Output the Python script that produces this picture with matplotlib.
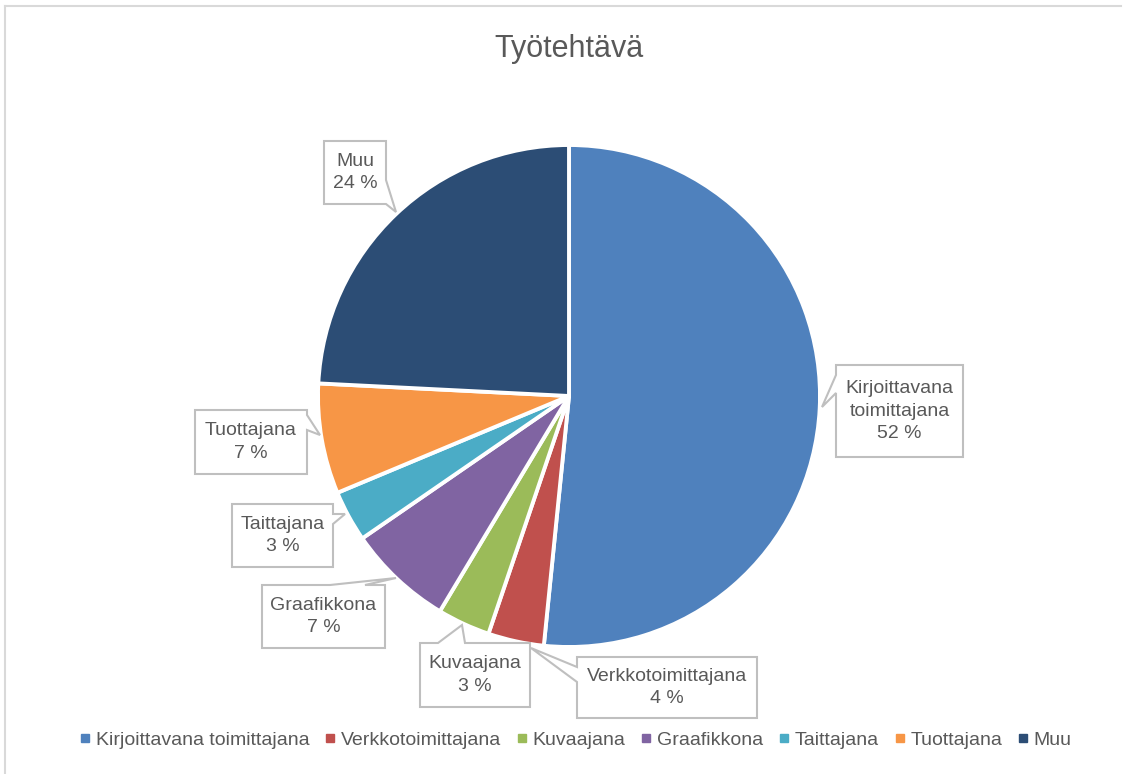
import matplotlib
matplotlib.use("Agg")
import matplotlib.pyplot as plt
from matplotlib.patches import Polygon
from matplotlib.lines import Line2D

plt.rcParams['font.family'] = ['Liberation Sans', 'DejaVu Sans']

# ---- data ----
categories = ["Kirjoittavana toimittajana", "Verkkotoimittajana", "Kuvaajana",
              "Graafikkona", "Taittajana", "Tuottajana", "Muu"]
box_labels = ["Kirjoittavana\ntoimittajana", "Verkkotoimittajana", "Kuvaajana",
              "Graafikkona", "Taittajana", "Tuottajana", "Muu"]
values = [51.6, 3.6, 3.4, 6.8, 3.3, 7.1, 24.2]
colors = ["#4F81BD", "#C0504D", "#9BBB59", "#8064A2", "#4BACC6", "#F79646", "#2C4D75"]
title = "Työtehtävä"

W, H = 1129, 774
fig = plt.figure(figsize=(W / 100, H / 100), dpi=100)
ax = fig.add_axes([0, 0, 1, 1])

TXT = "#595959"
EDGE = "#BFBFBF"

def Y(py):
    return H - py

# pie
ax.pie(values, colors=colors, startangle=90, counterclock=False,
       center=(569, Y(396)), radius=251,
       wedgeprops=dict(edgecolor="white", linewidth=2.8), frame=True)
ax.set_xlim(0, W)
ax.set_ylim(0, H)
ax.set_aspect('equal')
ax.axis('off')

# chart border (top & left)
ax.plot([5, 1121], [Y(6), Y(6)], color="#D9D9D9", lw=1.5)
ax.plot([5, 5], [Y(6), Y(774)], color="#D9D9D9", lw=1.5)

# callout geometry (pixels): box x0,y0,x1,y1 ; side ; base pts ; tip
callouts = [
    (box_labels[0], (836, 365, 963, 457), 'left', (375, 393), (822, 407)),
    (box_labels[1], (577, 657, 757, 718), 'left', (667, 682), (531, 648)),
    (box_labels[2], (420, 643, 530, 707), 'top', (438, 465), (462, 625)),
    (box_labels[3], (262, 585, 385, 648), 'top', (330, 365), (396, 578)),
    (box_labels[4], (232, 504, 333, 567), 'right', (514, 524), (345, 514)),
    (box_labels[5], (195, 410, 307, 474), 'right', (415, 430), (320, 435)),
    (box_labels[6], (324, 141, 386, 204), 'right', (180, 204), (396, 212)),
]

def callout_poly(box, side, base, tip):
    x0, y0, x1, y1 = box
    b0, b1 = base
    if side == 'left':
        pts = [(x0, y0), (x1, y0), (x1, y1), (x0, y1), (x0, b1), tip, (x0, b0)]
    elif side == 'right':
        pts = [(x0, y0), (x1, y0), (x1, b0), tip, (x1, b1), (x1, y1), (x0, y1)]
    else:  # top
        pts = [(x0, y0), (b0, y0), tip, (b1, y0), (x1, y0), (x1, y1), (x0, y1)]
    return [(px, Y(py)) for px, py in pts]

for (lab, box, side, base, tip), v in zip(callouts, values):
    poly = Polygon(callout_poly(box, side, base, tip), closed=True,
                   facecolor="white", edgecolor=EDGE, lw=1.5, zorder=5)
    ax.add_patch(poly)
    cx = (box[0] + box[2]) / 2
    cy = (box[1] + box[3]) / 2
    ax.text(cx, Y(cy), f"{lab}\n{round(v)} %", ha='center', va='center',
            fontsize=14, color=TXT, linespacing=1.42, zorder=6)

# title
ax.text(569, Y(49), title, ha='center', va='center', fontsize=22, color=TXT)

# legend
handles = [Line2D([], [], marker='s', linestyle='none', markersize=6,
                  markerfacecolor=c, markeredgecolor=c) for c in colors]
fig.legend(handles, categories, loc='center', bbox_to_anchor=(574 / W, 1 - 740 / H),
           ncol=7, frameon=False, fontsize=14, labelcolor=TXT,
           handletextpad=0.1, columnspacing=0.62, handlelength=0.9,
           borderaxespad=0)

fig.savefig("out.png", dpi=100, facecolor="white")
